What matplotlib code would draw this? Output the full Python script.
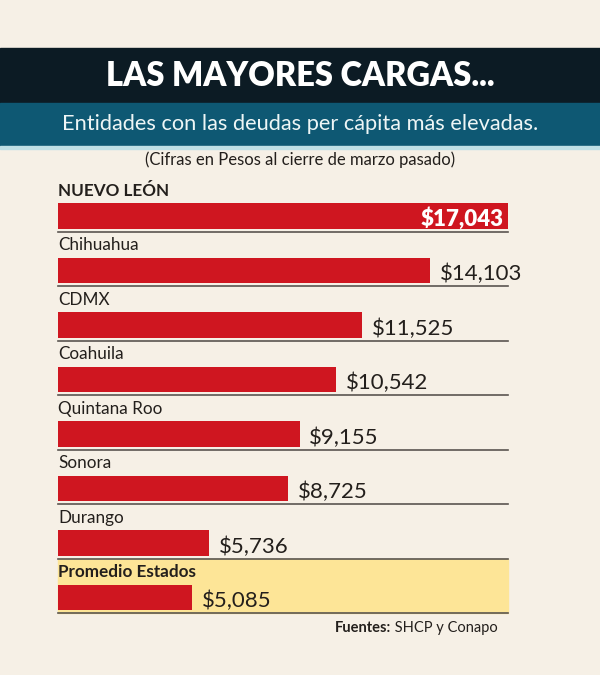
import matplotlib.pyplot as plt
from matplotlib.patches import Rectangle

plt.rcParams['font.family'] = ['Lato', 'DejaVu Sans']

estados = ["NUEVO LEÓN", "Chihuahua", "CDMX", "Coahuila", "Quintana Roo",
           "Sonora", "Durango", "Promedio Estados"]
deuda = [17043, 14103, 11525, 10542, 9155, 8725, 5736, 5085]
etiquetas = ["$17,043", "$14,103", "$11,525", "$10,542", "$9,155",
             "$8,725", "$5,736", "$5,085"]

titulo = "LAS MAYORES CARGAS..."
subtitulo = "Entidades con las deudas per cápita más elevadas."
nota = "(Cifras en Pesos al cierre de marzo pasado)"

bg = "#f6f0e6"
rojo = "#cf1620"
texto = "#231f1c"

W, H = 600, 675
fig = plt.figure(figsize=(6, 6.75), dpi=100, facecolor=bg)

# header bands
fig.patches.append(Rectangle((0, 1 - 103 / H), 1, 55 / H, transform=fig.transFigure,
                             color="#0c1b24", zorder=0))
fig.patches.append(Rectangle((0, 1 - 146 / H), 1, 43 / H, transform=fig.transFigure,
                             color="#0e5873", zorder=0))
fig.patches.append(Rectangle((0, 1 - 149 / H), 1, 3 / H, transform=fig.transFigure,
                             color="#bfe0e6", zorder=0))
fig.text(0.5, 1 - 76 / H, titulo, ha="center", va="center", color="white",
         fontsize=23.5, fontweight="heavy")
fig.text(0.5, 1 - 124 / H, subtitulo, ha="center", va="center", color="#eef6f6",
         fontsize=15.7)
fig.text(0.5, 1 - 160 / H, nota, ha="center", va="center", color=texto, fontsize=12)

# bar area
left, right = 58, 508
top_px, bot_px = 161.5, 624.75
ax = fig.add_axes([left / W, (H - bot_px) / H, (right - left) / W, (bot_px - top_px) / H])
ax.set_facecolor("none")
ax.set_xlim(0, max(deuda))
ax.set_ylim(7.5, -1)
ax.axis("off")

n = len(estados)
bh = 0.477
# highlight for the average
ax.add_patch(Rectangle((0, n - 1 - 0.706), max(deuda), 0.706 + 0.285, color="#fde597",
                       zorder=0, clip_on=False))
ax.barh(range(n), deuda, height=bh, color=rojo, zorder=2)

dx = max(deuda) * 0.021
for i, (nombre, v, lab) in enumerate(zip(estados, deuda, etiquetas)):
    bold = i == 0 or i == n - 1
    ax.text(0, i - 0.37, nombre, ha="left", va="baseline", color=texto,
            fontsize=12.3, fontweight="bold" if bold else "normal")
    ax.plot([0, max(deuda)], [i + 0.29, i + 0.29], color="#5a5550", lw=1.2,
            zorder=3, clip_on=False)
    if i == 0:
        ax.text(v - dx * 0.5, i + 0.05, lab, ha="right", va="center", color="white",
                fontsize=16, fontweight="heavy")
    else:
        ax.text(v + dx, i + 0.07, lab, ha="left", va="center", color=texto,
                fontsize=16)

fuentes_r = fig.text(498 / W, 1 - 628 / H, " SHCP y Conapo", ha="right", va="center",
                     fontsize=10.5, color=texto)
fig.canvas.draw()
bb = fuentes_r.get_window_extent()
fig.text(bb.x0 / W, 1 - 628 / H, "Fuentes:", ha="right", va="center",
         fontsize=10.5, fontweight="bold", color=texto)

fig.savefig("out.png", dpi=100, facecolor=bg)
